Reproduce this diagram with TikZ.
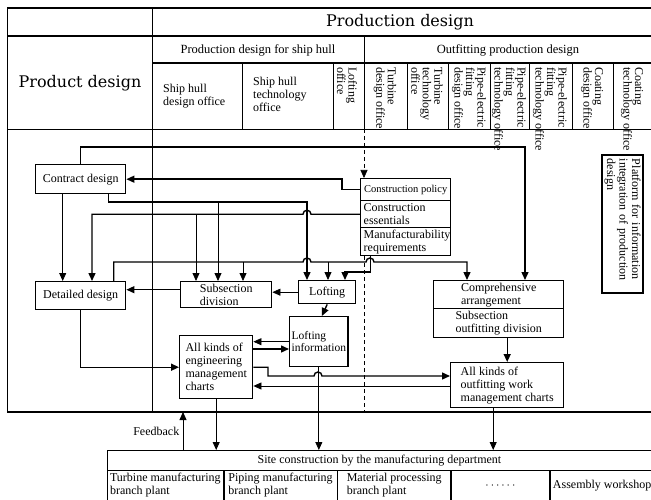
\documentclass[tikz,border=0pt]{standalone}
\usepackage{fontspec}
\setmainfont{Liberation Serif}
\newfontfamily\headfont{DejaVu Serif}
\usepackage{tikz}
\usetikzlibrary{arrows.meta,positioning}
\newcommand{\bodysize}{\fontsize{12}{13}\selectfont}
\tikzset{font=\bodysize}
\tikzset{
  rule/.style={line width=1.6pt},
  thinrule/.style={line width=0.6pt},
  headtext/.style={font=\headfont\fontsize{16}{19}\selectfont},
  subhead/.style={font=\fontsize{12.5}{14}\selectfont},
  officetext/.style={anchor=west,align=left,inner sep=2pt},
  office/.style={rotate=-90,anchor=west,align=left,inner sep=1pt,font=\fontsize{12}{11.5}\selectfont},
  box/.style={draw,line width=1.4pt,anchor=north west,align=left,inner sep=2pt},
  cell/.style={draw,line width=0.7pt,anchor=north west,minimum height=30,align=left,inner sep=1pt},
  tip/.style={-{Triangle[length=8pt,width=7pt]}},
  conn/.style={line width=1.4pt,tip},
  thinconn/.style={line width=0.8pt,tip},
  dashline/.style={line width=0.7pt,dash pattern=on 4pt off 3pt}
}

\begin{document}
\begin{tikzpicture}[x=1pt,y=-1pt]
  \useasboundingbox (0,0) rectangle (651,500);
  % table frame
  \draw[rule] (7,8) -- (651,8);
  \draw[rule] (7,36) -- (651,36);
  \draw[rule] (152,63) -- (651,63);
  \draw[thinrule] (7,129) -- (651,129);
  \draw[thinrule] (7,8) -- (7,412);
  \draw[thinrule] (152,8) -- (152,412);
  \draw[thinrule] (364,36) -- (364,129);
  \foreach \x in {242,333,407,448,490,529,572,613}
    \draw[thinrule] (\x,63) -- (\x,129);
  \draw[rule] (7,412) -- (651,412);

  % headings
  \node[headtext] (prodn) at (400,22) {Production design};
  \node[headtext] (product) at (80,83) {Product design};
  \node[subhead] (hullprod) at (258,50) {Production design for ship hull};
  \node[subhead] (outprod) at (508,50) {Outfitting production design};
  \node[officetext] (hulldes) at (161,96) {Ship hull\\design office};
  \node[officetext] (hulltech) at (251,94) {Ship hull\\technology\\office};
  \node[office] (loftoff) at (347,66) {Lofting\\office};
  \node[office] (turbdes) at (385,66) {Turbine\\design office};
  \node[office] (turbtech) at (427,66) {Turbine\\technology\\office};
  \node[office] (pipedes) at (469,66) {Pipe-electric\\fitting\\design office};
  \node[office] (pipetech) at (509,66) {Pipe-electric\\fitting\\technology office};
  \node[office] (pipetechb) at (550,66) {Pipe-electric\\fitting\\technology office};
  \node[office] (coatdes) at (592,66) {Coating\\design office};
  \node[office] (coattech) at (632,66) {Coating\\technology office};

  % design boxes
  \node[box,minimum width=90,minimum height=29] (contract) at (35,164) {Contract design};
  \node[box,minimum width=90,minimum height=28] (detailed) at (35,281) {Detailed design};
  \node[box,minimum width=91,minimum height=26] (subdiv) at (180,281) {Subsection\\division};
  \node[box,minimum width=57,minimum height=23] (lofting) at (298,280) {Lofting};
  \node[box,minimum width=58,minimum height=50,font=\fontsize{11.5}{12.5}\selectfont] (loftinfo) at (289,316) {Lofting\\information};
  \node[box,minimum width=73,minimum height=63] (engcharts) at (179,335) {All kinds of\\engineering\\management\\charts};
  \node[box,minimum width=90,minimum height=22,font=\fontsize{10.5}{12}\selectfont] (policy) at (360,178) {Construction policy};
  \node[box,minimum width=90,minimum height=27,text width=84] (essentials) at (360,200) {Construction\\essentials};
  \node[box,minimum width=90,minimum height=26,text width=84] (manuf) at (360,227) {Manufacturability\\requirements};
  \node[box,minimum width=130,minimum height=28] (compre) at (433,280) {Comprehensive\\arrangement};
  \node[box,minimum width=130,minimum height=29] (subout) at (433,308) {Subsection\\outfitting division};
  \node[box,minimum width=113,minimum height=45] (outcharts) at (450,362) {All kinds of\\outfitting work\\management charts};
  \node[draw,line width=1.4pt,rotate=-90,minimum width=138,minimum height=41,text width=130,align=left,inner sep=1pt,font=\fontsize{12}{12.5}\selectfont] (platform) at (622.5,224) {Platform for information\\integration of production\\design};

  % manufacturing department
  \node[box,line width=0.9pt,minimum width=544,minimum height=20] (site) at (107,450) {Site construction by the manufacturing department};
  \node[cell,minimum width=116] (turbplant) at (107,470) {Turbine manufacturing\\branch plant};
  \node[cell,minimum width=113,right=0pt of turbplant.north east,anchor=north west] (pipeplant) {Piping manufacturing\\branch plant};
  \node[cell,minimum width=113,right=0pt of pipeplant.north east,anchor=north west] (matplant) {Material processing\\branch plant};
  \node[cell,minimum width=98,right=0pt of matplant.north east,anchor=north west] (moreplant) {$\cdots\cdots$};
  \node[cell,minimum width=104,right=0pt of moreplant.north east,anchor=north west] (assembly) {Assembly workshop};

  % dashed divider
  \draw[dashline,tip] (364,129) -- (364,0 |- policy.north);
  \draw[dashline] (364,0 |- manuf.south) -- (364,412);

  % connectors
  \draw[conn] (contract.north) |- (525,147) -- (525,0 |- compre.north);
  \draw[conn] (policy.west) -- (342,0 |- policy.west) |- (contract.east);
  \draw[conn] ([xshift=28pt]contract.south) |- (307,202) -- (307,0 |- lofting.north);
  \draw[thinconn] (218,202) -- (218,0 |- subdiv.north);
  \draw[conn] (essentials.west) -- (311,0 |- essentials.west) arc[start angle=0,end angle=180,radius=4pt]
    -- (92,0 |- essentials.west) -- (92,0 |- detailed.north);
  \draw[thinconn] (196,0 |- essentials.west) -- (196,0 |- subdiv.north);
  \draw[conn] ([xshift=33pt]detailed.north) |- (303,262) arc[start angle=180,end angle=0,radius=4pt]
    -- (366,262) arc[start angle=180,end angle=0,radius=4pt] -- (467,262) -- (467,0 |- compre.north);
  \draw[thinconn] (243,262) -- (243,0 |- subdiv.north);
  \draw[thinconn] (328,262) -- (328,0 |- lofting.north);
  \draw[conn] ([xshift=-35pt]manuf.south) |- (345,272) -- (345,0 |- lofting.north);
  \draw[thinconn] (lofting.west) -- (lofting.west -| subdiv.east);
  \draw[conn] ([yshift=5pt]subdiv.west) -- ([yshift=5pt]subdiv.west -| detailed.east);
  \draw[thinconn] ([xshift=-18pt]contract.south) -- ([xshift=-18pt]detailed.north);
  \draw[conn] (lofting.south) -- ([xshift=3pt]loftinfo.north);
  \draw[thinconn] (loftinfo.west) -- (loftinfo.west -| engcharts.east);
  \draw[conn] (engcharts.east |- 0,349) -- (loftinfo.west |- 0,349);
  \draw[conn] (detailed.south) |- (engcharts.west);
  \draw[conn] (engcharts.east) -| (268,376) -- (314,376) arc[start angle=180,end angle=0,radius=4pt]
    -- (outcharts.west |- 0,376);
  \draw[thinconn] (outcharts.west |- 0,386) -- (engcharts.east |- 0,386);
  \draw[conn] (outcharts.north |- subout.south) -- (outcharts.north);
  \draw[thinconn] (engcharts.south) -- (engcharts.south |- site.north);
  \draw[thinconn] (loftinfo.south) -- (loftinfo.south |- site.north);
  \draw[thinconn] ([xshift=-14pt]outcharts.south) -- ([xshift=-14pt]outcharts.south |- site.north);
  \draw[thinconn] (183,0 |- site.north) -- (183,412) node[midway,left] (feedback) {Feedback};
\end{tikzpicture}
\end{document}
